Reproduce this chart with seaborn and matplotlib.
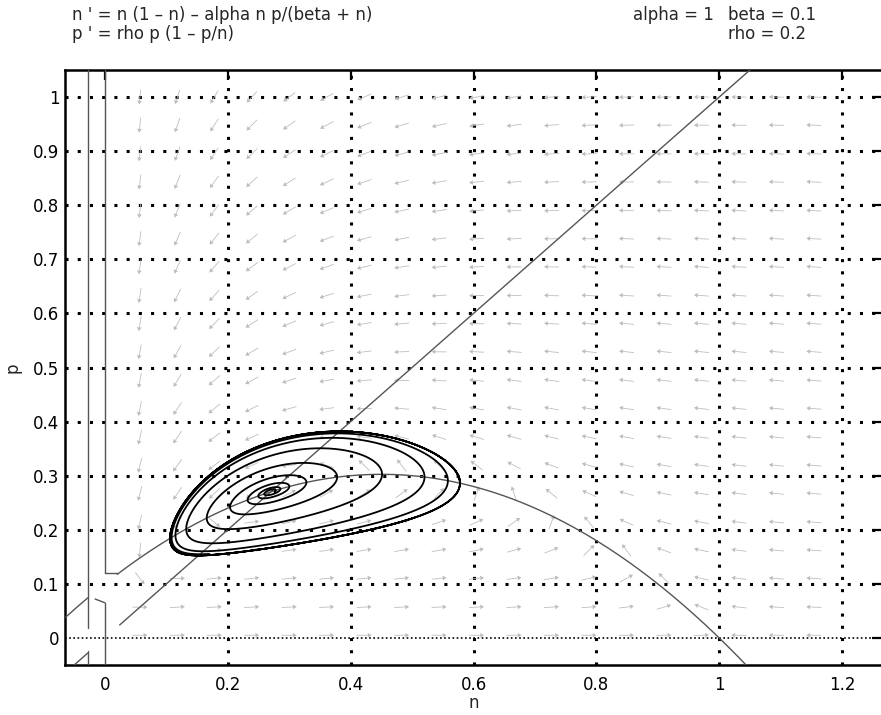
import numpy as np
import pandas as pd
import matplotlib
matplotlib.use("Agg")
import matplotlib.pyplot as plt
import seaborn as sns

# ---------------- data ----------------
alpha, beta, rho = 1.0, 0.1, 0.2          # parameters shown on the chart

eq_lines = ["n ' = n (1 – n) – alpha n p/(beta + n)",
            "p ' = rho p (1 – p/n)"]
param_line1 = ["alpha = 1", "beta = 0.1"]
param_line2 = "rho = 0.2"

x_ticks = [0, 0.2, 0.4, 0.6, 0.8, 1.0, 1.2]
x_tick_labels = ["0", "0.2", "0.4", "0.6", "0.8", "1", "1.2"]
y_ticks = [0, 0.1, 0.2, 0.3, 0.4, 0.5, 0.6, 0.7, 0.8, 0.9, 1.0]
y_tick_labels = ["0", "0.1", "0.2", "0.3", "0.4", "0.5", "0.6", "0.7", "0.8", "0.9", "1"]

# direction-field sample positions
n_arrow = [0.057, 0.118, 0.178, 0.239, 0.300, 0.361, 0.422, 0.483, 0.544, 0.605,
           0.666, 0.727, 0.788, 0.849, 0.910, 0.971, 1.032, 1.093, 1.154]
p_arrow = [1.000, 0.948, 0.895, 0.843, 0.790, 0.738, 0.686, 0.633, 0.581, 0.529,
           0.476, 0.424, 0.371, 0.319, 0.267, 0.214, 0.162, 0.110, 0.057, 0.005]

# trajectory start points and integration lengths
orbit_n0 = [0.276, 0.578]
orbit_p0 = [0.270, 0.290]
orbit_T = [160.0, 60.0]

# pieces of nullcline drawn by the solver near n = 0
stub_n = [[-0.028, -0.028], [-0.028, -0.028], [0.0, 0.0], [0.0, 0.0],
          [0.0, 0.02], [-0.016, 0.0]]
stub_p = [[1.05, 0.018], [-0.024, -0.05], [1.05, 0.12], [0.065, -0.05],
          [0.12, 0.12], [0.072, 0.065]]
diag_ranges = [(-0.064, -0.028), (0.024, 1.05)]     # p = n nullcline pieces
ncl_ranges = [(-0.064, -0.028), (0.02, 1.06)]       # n' = 0 nullcline pieces


def field(n, p):
    dn = n * (1 - n) - alpha * n * p / (beta + n)
    dp = rho * p * (1 - p / n)
    return dn, dp


def integrate(n0, p0, T, dt=0.02):
    pts = [(n0, p0)]
    n, p = n0, p0
    for _ in range(int(T / dt)):
        k1 = field(n, p)
        k2 = field(n + dt / 2 * k1[0], p + dt / 2 * k1[1])
        k3 = field(n + dt / 2 * k2[0], p + dt / 2 * k2[1])
        k4 = field(n + dt * k3[0], p + dt * k3[1])
        n += dt / 6 * (k1[0] + 2 * k2[0] + 2 * k3[0] + k4[0])
        p += dt / 6 * (k1[1] + 2 * k2[1] + 2 * k3[1] + k4[1])
        pts.append((n, p))
    return np.array(pts)


# ---------------- figure ----------------
sns.set_theme(style="white")
plt.rcParams["font.family"] = ["DejaVu Sans"]
plt.rcParams["font.size"] = 12

W, H = 881, 715
fig = plt.figure(figsize=(W / 100, H / 100), dpi=100)
ax_l, ax_r, ax_t, ax_b = 65, 882, 70, 665
ax = fig.add_axes([ax_l / W, 1 - ax_b / H, (ax_r - ax_l) / W, (ax_b - ax_t) / H])
xlim = (-0.065, 1.265)
ylim = (-0.05, 1.05)
ax.set_xlim(*xlim)
ax.set_ylim(*ylim)

# grid: heavy dotted black
for xv in x_ticks[1:]:
    ax.axvline(xv, color="black", lw=2.2, ls=(0, (1, 3)), dash_capstyle="butt", zorder=1)
for yv in y_ticks[1:]:
    ax.axhline(yv, color="black", lw=2.2, ls=(0, (1, 3)), dash_capstyle="butt", zorder=1)
# p = 0 nullcline: fine dotted
ax.axhline(0, color="black", lw=1.2, ls=(0, (1, 1.5)), zorder=1)

# direction field (normalised in screen space)
sx = (ax_r - ax_l) / (xlim[1] - xlim[0])
sy = (ax_b - ax_t) / (ylim[1] - ylim[0])
NN, PP = np.meshgrid(np.array(n_arrow), np.array(p_arrow))
DN, DP = field(NN, PP)
U, V = DN * sx, DP * sy
L = np.hypot(U, V)
U, V = U / L, V / L
ax.quiver(NN, PP, U, V, angles="uv", units="dots", scale_units="dots", scale=1 / 15,
          width=0.8, headwidth=6, headlength=5, headaxislength=4.5, pivot="mid",
          color="#bcbcbc", zorder=2)

null_color = "#555555"
for a, b in diag_ranges:
    d = np.linspace(a, b, 50)
    sns.lineplot(x=d, y=d, ax=ax, color=null_color, lw=1.0, sort=False, estimator=None, zorder=3)
for a, b in ncl_ranges:
    nn = np.linspace(a, b, 300)
    sns.lineplot(x=nn, y=(1 - nn) * (beta + nn) / alpha, ax=ax, color=null_color, lw=1.0,
                 sort=False, estimator=None, zorder=3)
for sn, sp in zip(stub_n, stub_p):
    sns.lineplot(x=sn, y=sp, ax=ax, color=null_color, lw=1.0, sort=False, estimator=None, zorder=3)

# trajectories
for n0, p0, T in zip(orbit_n0, orbit_p0, orbit_T):
    tr = integrate(n0, p0, T)
    df = pd.DataFrame({"n": tr[:, 0], "p": tr[:, 1]})
    sns.lineplot(data=df, x="n", y="p", ax=ax, color="black", lw=1.3, sort=False,
                 estimator=None, zorder=4)

# axes style
ax.set_xticks(x_ticks)
ax.set_xticklabels(x_tick_labels)
ax.set_yticks(y_ticks)
ax.set_yticklabels(y_tick_labels)
ax.tick_params(direction="in", length=7, width=1.6, top=True, right=True,
               labelsize=12, colors="black")
ax.tick_params(axis="x", pad=8)
ax.tick_params(axis="y", pad=4)
for s in ax.spines.values():
    s.set_linewidth(1.8)
    s.set_color("black")
    s.set_visible(True)
ax.set_xlabel("n", fontsize=12, labelpad=0)
ax.set_ylabel("p", fontsize=12, labelpad=8)

# header texts
fig.text(72 / W, 1 - 20 / H, eq_lines[0], fontsize=12, va="baseline", ha="left")
fig.text(72 / W, 1 - 39 / H, eq_lines[1], fontsize=12, va="baseline", ha="left")
fig.text(633 / W, 1 - 20 / H, param_line1[0], fontsize=12, va="baseline", ha="left")
fig.text(728 / W, 1 - 20 / H, param_line1[1], fontsize=12, va="baseline", ha="left")
fig.text(728 / W, 1 - 39 / H, param_line2, fontsize=12, va="baseline", ha="left")

fig.savefig("out.png", dpi=100)
